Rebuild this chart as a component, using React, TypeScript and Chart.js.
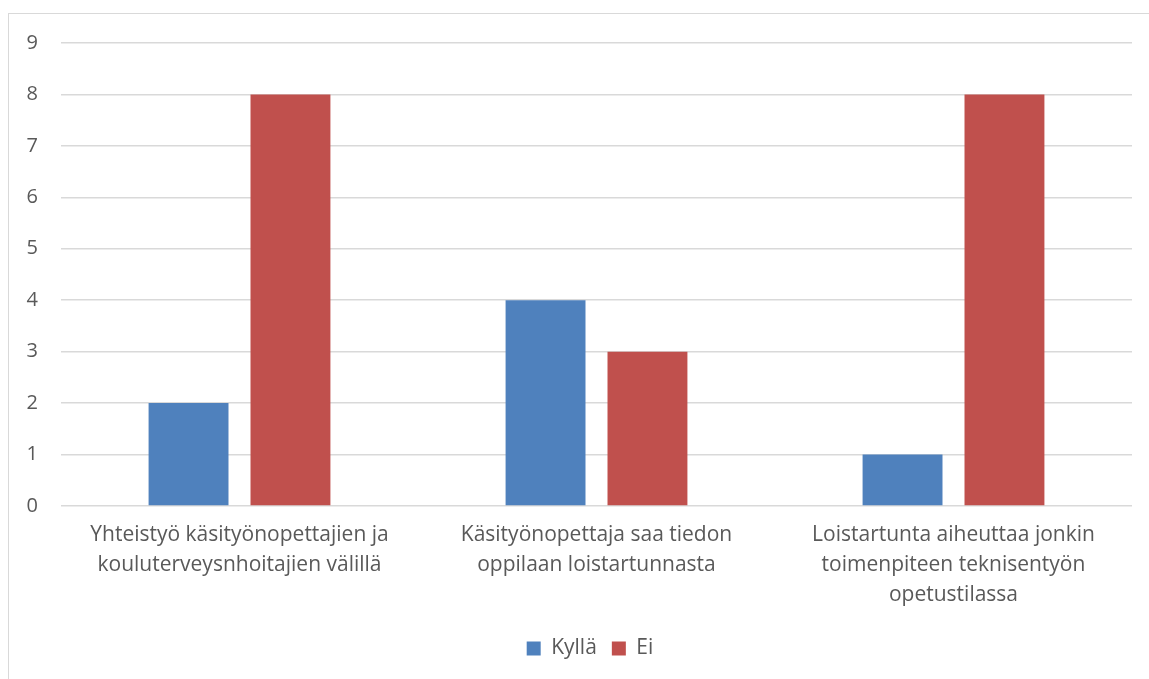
import React, { useEffect, useRef } from "react";
import { Chart, registerables } from "chart.js";

Chart.register(...registerables);

const categories: string[][] = [
  ["Yhteistyö käsityönopettajien ja", "kouluterveysnhoitajien välillä"],
  ["Käsityönopettaja saa tiedon", "oppilaan loistartunnasta"],
  ["Loistartunta aiheuttaa jonkin", "toimenpiteen teknisentyön", "opetustilassa"],
];
const kyllaValues = [2, 4, 1];
const eiValues = [8, 3, 8];
const seriesNames = ["Kyllä", "Ei"];
const yMin = 0;
const yMax = 9;
const yStep = 1;

const FONT = "'Open Sans', Lato, sans-serif";
const TEXT = "#595959";

const legendShift = {
  id: "legendShift",
  afterLayout(chart: any) {
    const lg = chart.legend;
    if (!lg) return;
    const dx = 24;
    const dy = 2;
    lg.left += dx;
    lg.right += dx;
    lg.top += dy;
    lg.bottom += dy;
  },
};

export default function App() {
  const ref = useRef<HTMLCanvasElement | null>(null);
  useEffect(() => {
    document.body.style.margin = "0";
    const ctx = ref.current!;
    const chart = new Chart(ctx, {
      type: "bar",
      data: {
        labels: categories as any,
        datasets: [
          {
            label: seriesNames[0],
            data: kyllaValues,
            backgroundColor: "#4f81bd",
            barPercentage: 0.784,
            categoryPercentage: 0.571,
          },
          {
            label: seriesNames[1],
            data: eiValues,
            backgroundColor: "#c0504d",
            barPercentage: 0.784,
            categoryPercentage: 0.571,
          },
        ],
      },
      options: {
        animation: false,
        responsive: false,
        maintainAspectRatio: false,
        layout: { padding: { top: 43, right: 17, bottom: 12, left: 0 } },
        plugins: {
          tooltip: { enabled: false },
          legend: {
            position: "bottom",
            labels: {
              boxWidth: 14,
              boxHeight: 14,
              padding: 15,
              color: TEXT,
              font: { family: FONT, size: 21 },
            },
          },
        },
        scales: {
          x: {
            grid: { display: false },
            border: { display: false },
            ticks: {
              color: TEXT,
              font: { family: FONT, size: 21, lineHeight: 1.43 },
              padding: 6,
              maxRotation: 0,
              autoSkip: false,
            },
            afterFit: (s: any) => {
              s.height = 115;
            },
          },
          y: {
            min: yMin,
            max: yMax,
            border: { display: false },
            grid: { color: "#d9d9d9", lineWidth: 1.5, drawTicks: false },
            ticks: {
              stepSize: yStep,
              color: TEXT,
              font: { family: FONT, size: 20 },
              padding: 23,
            },
            afterFit: (s: any) => {
              s.width = 61;
            },
          },
        },
      },
      plugins: [legendShift],
    });
    return () => chart.destroy();
  }, []);
  return (
    <div
      style={{
        position: "fixed",
        left: 0,
        top: 0,
        width: 1149,
        height: 679,
        overflow: "hidden",
        background: "#fff",
      }}
    >
      <div
        style={{
          position: "absolute",
          left: 8,
          top: 13,
          width: 1200,
          height: 700,
          border: "1.5px solid #d9d9d9",
        }}
      />
      <canvas
        ref={ref}
        width={1149}
        height={679}
        style={{ position: "absolute", left: 0, top: 0, width: 1149, height: 679 }}
      />
    </div>
  );
}
